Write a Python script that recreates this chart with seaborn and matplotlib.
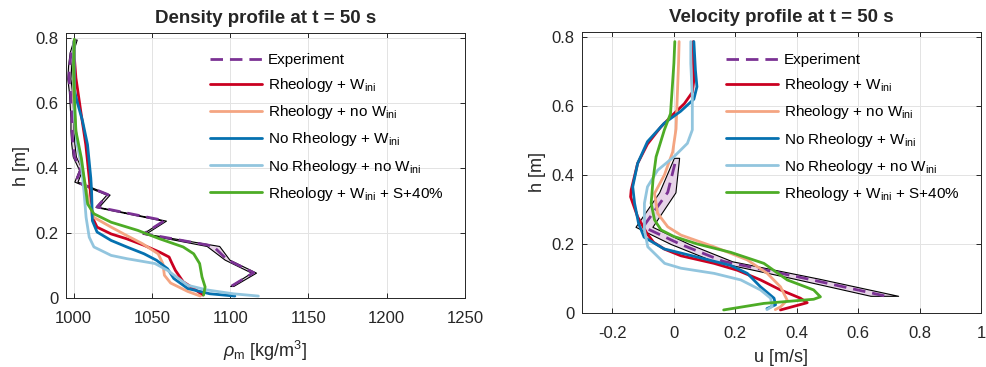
import numpy as np
import pandas as pd
import matplotlib
matplotlib.use("Agg")
import matplotlib.pyplot as plt
import seaborn as sns

# ---------------- data ----------------
series_names = [
    "Rheology + W$_{\\mathrm{ini}}$",
    "Rheology + no W$_{\\mathrm{ini}}$",
    "No Rheology + W$_{\\mathrm{ini}}$",
    "No Rheology + no W$_{\\mathrm{ini}}$",
    "Rheology + W$_{\\mathrm{ini}}$ + S+40%",
]
series_colors = ["#ca0020", "#f4a582", "#0571b0", "#92c5de", "#4dac26"]
exp_color = "#7b3294"
band_color = "#e7d4e8"

# Density profile, measured (h [m], centre, half-width [kg/m3])
rho_exp_h = [0.037, 0.078, 0.118, 0.160, 0.198, 0.238, 0.280, 0.318, 0.358, 0.394,
             0.435, 0.475, 0.515, 0.555, 0.595, 0.635, 0.675, 0.715, 0.755, 0.795]
rho_exp = [1101, 1115, 1098, 1089, 1045, 1058, 1015, 1022, 1001.5, 1004.5,
           1000.5, 999.5, 999, 999, 998.5, 998, 997, 997.5, 998.5, 1001]
rho_exp_hw = [1.0, 1.5, 1.5, 4.0, 1.0, 1.0, 1.0, 1.0, 1.0, 1.0,
              1.0, 1.0, 1.0, 1.0, 1.0, 1.0, 1.0, 1.0, 1.0, 1.0]

# Density profiles, simulated
rho_h_1 = [0.009, 0.029, 0.050, 0.085, 0.110, 0.126, 0.141, 0.162, 0.182, 0.197, 0.218,
           0.248, 0.310, 0.369, 0.472, 0.574, 0.677, 0.740, 0.790]
rho_1 = [1082.6, 1076.7, 1070, 1065, 1062.5, 1061, 1055, 1045, 1034, 1024, 1015,
         1012, 1011, 1010, 1007.8, 1004.6, 1001.5, 1000.5, 1000.3]
rho_h_2 = [0.006, 0.020, 0.046, 0.070, 0.106, 0.136, 0.167, 0.192, 0.218, 0.248,
           0.289, 0.360, 0.430, 0.510, 0.615, 0.700, 0.790]
rho_2 = [1081, 1073, 1062, 1058, 1057, 1054, 1044, 1034, 1024, 1013,
         1010, 1007, 1004, 1001.5, 1000, 1000, 1000.3]
rho_h_3 = [0.006, 0.013, 0.029, 0.060, 0.090, 0.116, 0.136, 0.157, 0.177, 0.203,
           0.238, 0.330, 0.369, 0.472, 0.545, 0.600, 0.640, 0.720, 0.790]
rho_3 = [1103, 1087, 1073, 1064, 1060, 1053, 1045, 1034, 1024, 1015,
         1012, 1011.5, 1011, 1008.9, 1005.7, 1002.5, 1000.5, 1000.3, 1000.3]
rho_h_4 = [0.006, 0.013, 0.025, 0.039, 0.085, 0.106, 0.121, 0.131, 0.157, 0.187,
           0.248, 0.330, 0.410, 0.480, 0.564, 0.680, 0.790]
rho_4 = [1118, 1102, 1085, 1073, 1060, 1052, 1034, 1024, 1013, 1010,
         1008, 1006.6, 1005, 1002, 1000.5, 1000.2, 1000.3]
rho_h_5 = [0.009, 0.034, 0.065, 0.106, 0.136, 0.157, 0.182, 0.208, 0.233, 0.259,
           0.289, 0.360, 0.430, 0.513, 0.620, 0.717, 0.796]
rho_5 = [1083, 1084, 1082, 1080.5, 1076.7, 1070, 1055, 1041, 1024, 1013,
         1009, 1007, 1005, 1001.5, 1000.5, 1000, 1000.5]

# Velocity profile, measured (h [m], centre, band limits [m/s])
u_exp_h = [0.05, 0.10, 0.15, 0.20, 0.25, 0.35, 0.45]
u_exp = [0.685, 0.43, 0.16, 0.02, -0.10, -0.02, 0.008]
u_exp_lo = [0.64, 0.39, 0.13, -0.01, -0.125, -0.048, 0.0]
u_exp_hi = [0.73, 0.47, 0.19, 0.05, -0.07, 0.005, 0.017]

# Velocity profiles, simulated
u_h_1 = [0.009, 0.030, 0.043, 0.067, 0.096, 0.124, 0.144, 0.166, 0.185, 0.205, 0.231,
         0.279, 0.337, 0.357, 0.434, 0.490, 0.539, 0.578, 0.607, 0.640, 0.675, 0.787]
u_1 = [0.347, 0.434, 0.412, 0.347, 0.282, 0.207, 0.131, 0.023, -0.030, -0.066, -0.088,
       -0.118, -0.141, -0.139, -0.118, -0.086, -0.043, 0.0, 0.034, 0.060, 0.065, 0.063]
u_h_2 = [0.010, 0.018, 0.037, 0.076, 0.115, 0.154, 0.192, 0.226, 0.250, 0.289,
         0.347, 0.400, 0.467, 0.534, 0.720, 0.787]
u_2 = [0.330, 0.347, 0.369, 0.347, 0.304, 0.239, 0.131, 0.023, -0.020, -0.053,
       -0.063, -0.031, -0.004, 0.007, 0.015, 0.017]
u_h_3 = [0.013, 0.024, 0.043, 0.076, 0.115, 0.138, 0.162, 0.186, 0.220, 0.260,
         0.318, 0.366, 0.434, 0.497, 0.550, 0.585, 0.620, 0.656, 0.705, 0.787]
u_3 = [0.303, 0.331, 0.326, 0.282, 0.239, 0.185, 0.077, -0.032, -0.097, -0.115,
       -0.128, -0.134, -0.118, -0.086, -0.032, 0.022, 0.065, 0.075, 0.070, 0.065]
u_h_4 = [0.010, 0.019, 0.043, 0.067, 0.096, 0.115, 0.130, 0.144, 0.192, 0.241,
         0.318, 0.366, 0.414, 0.453, 0.492, 0.531, 0.627, 0.724, 0.787]
u_4 = [0.303, 0.320, 0.315, 0.282, 0.218, 0.131, 0.023, -0.030, -0.085, -0.096,
       -0.096, -0.086, -0.053, 0.0, 0.044, 0.060, 0.060, 0.055, 0.055]
u_h_5 = [0.009, 0.028, 0.040, 0.047, 0.067, 0.096, 0.144, 0.176, 0.200, 0.222,
         0.241, 0.270, 0.318, 0.386, 0.453, 0.531, 0.578, 0.724, 0.787]
u_5 = [0.162, 0.293, 0.455, 0.477, 0.455, 0.369, 0.293, 0.185, 0.077, 0.0,
       -0.042, -0.063, -0.074, -0.068, -0.058, -0.031, -0.011, 0.0, 0.003]

rho_sim = [(rho_h_1, rho_1), (rho_h_2, rho_2), (rho_h_3, rho_3), (rho_h_4, rho_4), (rho_h_5, rho_5)]
u_sim = [(u_h_1, u_1), (u_h_2, u_2), (u_h_3, u_3), (u_h_4, u_4), (u_h_5, u_5)]

# ---------------- style ----------------
sns.set_style("ticks")
ink = "#262626"
plt.rcParams.update({
    "font.family": ["Liberation Sans", "DejaVu Sans"],
    "mathtext.fontset": "custom",
    "mathtext.rm": "Liberation Sans",
    "mathtext.it": "Liberation Sans:italic",
    "mathtext.bf": "Liberation Sans:bold",
    "axes.edgecolor": ink,
    "axes.linewidth": 0.7,
    "xtick.color": ink,
    "ytick.color": ink,
    "xtick.direction": "in",
    "ytick.direction": "in",
    "xtick.major.size": 3.5,
    "ytick.major.size": 3.5,
    "xtick.major.width": 0.7,
    "ytick.major.width": 0.7,
    "xtick.major.pad": 9,
    "ytick.major.pad": 5,
    "xtick.top": True,
    "ytick.right": True,
    "xtick.labelsize": 12,
    "ytick.labelsize": 12,
})

fig = plt.figure(figsize=(9.87, 3.67), dpi=100)
ax1 = fig.add_axes([0.0666, 0.188, 0.4046, 0.722])
ax2 = fig.add_axes([0.5894, 0.147, 0.4046, 0.766])


def draw_panel(ax, eh, ec, elo, ehi, sims):
    ax.fill_betweenx(eh, elo, ehi, facecolor=band_color, edgecolor="black",
                     linewidth=0.8, zorder=2)
    sns.lineplot(x=ec, y=eh, ax=ax, sort=False, estimator=None, orient="y",
                 color=exp_color, linewidth=2.0, zorder=3,
                 label="Experiment").lines[-1].set_dashes((4.5, 2.5))
    for (h, v), name, col in zip(sims, series_names, series_colors):
        sns.lineplot(x=v, y=h, ax=ax, sort=False, estimator=None, orient="y",
                     color=col, linewidth=2.0, zorder=4, label=name)
    ax.grid(True, color="#e3e3e3", linewidth=0.7)
    ax.set_axisbelow(True)
    for s in ax.spines.values():
        s.set_visible(True)
        s.set_color(ink)
    leg = ax.legend(loc="upper left", bbox_to_anchor=(0.362, 0.925), frameon=False,
                    fontsize=11, handlelength=3.4, handletextpad=0.35,
                    labelspacing=0.6, borderpad=0, borderaxespad=0)
    for t in leg.get_texts():
        t.set_color("black")


rho_lo = [c - w for c, w in zip(rho_exp, rho_exp_hw)]
rho_hi = [c + w for c, w in zip(rho_exp, rho_exp_hw)]
draw_panel(ax1, rho_exp_h, rho_exp, rho_lo, rho_hi, rho_sim)
draw_panel(ax2, u_exp_h, u_exp, u_exp_lo, u_exp_hi, u_sim)

ax1.set_xlim(995, 1250)
ax1.set_ylim(0, 0.815)
ax1.set_xticks([1000, 1050, 1100, 1150, 1200, 1250])
ax1.set_yticks([0, 0.2, 0.4, 0.6, 0.8])
ax1.set_yticklabels(["0", "0.2", "0.4", "0.6", "0.8"])
ax1.set_xlabel("$\\rho_{\\mathrm{m}}$ [kg/m$^3$]", fontsize=13, color=ink, labelpad=10)
ax1.set_ylabel("h [m]", fontsize=13, color=ink, labelpad=4)
ax1.set_title("Density profile at t = 50 s", fontsize=13.5, fontweight="bold", pad=7)

ax2.set_xlim(-0.3, 1.0)
ax2.set_ylim(0, 0.815)
ax2.set_xticks([-0.2, 0, 0.2, 0.4, 0.6, 0.8, 1])
ax2.set_xticklabels(["-0.2", "0", "0.2", "0.4", "0.6", "0.8", "1"])
ax2.set_yticks([0, 0.2, 0.4, 0.6, 0.8])
ax2.set_yticklabels(["0", "0.2", "0.4", "0.6", "0.8"])
ax2.set_xlabel("u [m/s]", fontsize=13, color=ink, labelpad=6)
ax2.set_ylabel("h [m]", fontsize=13, color=ink, labelpad=4)
ax2.set_title("Velocity profile at t = 50 s", fontsize=13.5, fontweight="bold", pad=7)

fig.savefig("out.png", dpi=100)
